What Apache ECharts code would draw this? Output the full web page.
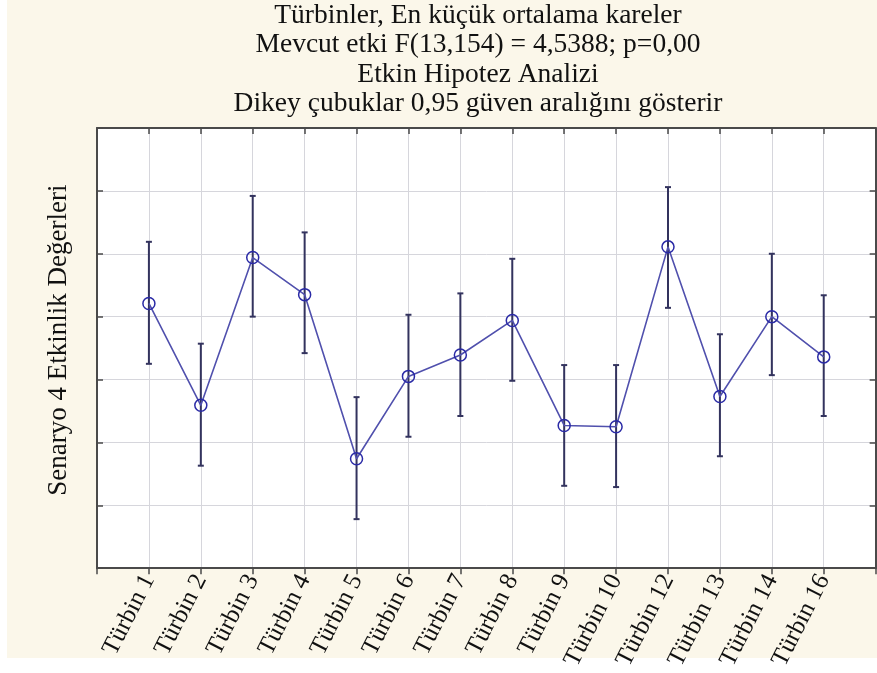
<!DOCTYPE html>
<html lang="tr">
<head>
    <meta charset="UTF-8">
    <title>Türbinler</title>
    <style>
        html, body { margin: 0; padding: 0; background: #fbf7ea; }
    </style>
    <script src="https://cdn.jsdelivr.net/npm/echarts@6/dist/echarts.min.js"></script>
</head>
<body>
    <div id="main" style="width:877px;height:673px"></div>
    <script>
        var turbines = ['Türbin 1', 'Türbin 2', 'Türbin 3', 'Türbin 4', 'Türbin 5', 'Türbin 6', 'Türbin 7',
                        'Türbin 8', 'Türbin 9', 'Türbin 10', 'Türbin 12', 'Türbin 13', 'Türbin 14', 'Türbin 16'];
        var means = [4.21, 2.59, 4.94, 4.35, 1.74, 3.05, 3.39, 3.94, 2.27, 2.25, 5.11, 2.73, 4.00, 3.36];
        var upper = [5.19, 3.57, 5.92, 5.34, 2.72, 4.03, 4.37, 4.92, 3.23, 3.23, 6.06, 3.72, 5.00, 4.34];
        var lower = [3.25, 1.63, 4.00, 3.42, 0.78, 2.09, 2.42, 2.98, 1.31, 1.29, 4.14, 1.78, 3.07, 2.42];

        var serif = '"Liberation Serif", "Times New Roman", serif';
        var axisCol = '#4a4a4a';
        var gridCol = '#d6d6dc';

        var chart = echarts.init(document.getElementById('main'));

        var meanData = [], barData = [];
        for (var i = 0; i < turbines.length; i++) {
            meanData.push([i, means[i]]);
            barData.push([i, lower[i], upper[i]]);
        }

        var option = {
            backgroundColor: '#fbf7ea',
            animation: false,
            title: {
                text: 'Türbinler, En küçük ortalama kareler\nMevcut etki F(13,154) = 4,5388; p=0,00\nEtkin Hipotez Analizi\nDikey çubuklar 0,95 güven aralığını gösterir',
                left: 478,
                textAlign: 'center',
                top: 1,
                padding: 0,
                textStyle: { fontFamily: serif, fontSize: 27.5, fontWeight: 'normal', color: '#111', lineHeight: 29.5 }
            },
            graphic: [
                { type: 'rect', shape: { x: 0, y: 658, width: 877, height: 15 }, style: { fill: '#ffffff' }, silent: true, z: -10 },
                { type: 'rect', shape: { x: 0, y: 0, width: 7, height: 673 }, style: { fill: '#ffffff' }, silent: true, z: -10 }
            ],
            grid: { left: 97, right: 0, top: 128, bottom: 103, show: true, backgroundColor: '#ffffff', borderWidth: 0 },
            xAxis: [{
                type: 'value', min: -1, max: 14, interval: 1,
                axisLine: { onZero: false, lineStyle: { color: axisCol, width: 2 } },
                axisTick: { length: 6, lineStyle: { color: axisCol, width: 1.5 } },
                splitLine: { show: true, lineStyle: { color: gridCol, width: 1 } },
                axisLabel: {
                    rotate: 63, margin: 8,
                    fontFamily: serif, fontSize: 25, color: '#111',
                    formatter: function (v) { return turbines[v] || ''; }
                }
            }, {
                type: 'value', position: 'top', min: -1, max: 14, interval: 1,
                axisLine: { onZero: false, lineStyle: { color: axisCol, width: 2 } },
                axisTick: { inside: true, length: 6, lineStyle: { color: axisCol, width: 1.5 } },
                axisLabel: { show: false },
                splitLine: { show: false }
            }],
            yAxis: [{
                type: 'value', min: 0, max: 7, interval: 1,
                name: 'Senaryo 4 Etkinlik Değerleri',
                nameLocation: 'middle', nameGap: 25,
                nameTextStyle: { fontFamily: serif, fontSize: 27, color: '#111', padding: [0, 0, 0, 16] },
                axisLine: { show: true, onZero: false, lineStyle: { color: axisCol, width: 2 } },
                axisTick: { show: true, inside: true, length: 6, lineStyle: { color: axisCol, width: 1.5 } },
                axisLabel: { show: false },
                splitLine: { show: true, lineStyle: { color: gridCol, width: 1 } }
            }, {
                type: 'value', position: 'right', min: 0, max: 7, interval: 1,
                axisLine: { show: true, onZero: false, lineStyle: { color: axisCol, width: 2 } },
                axisTick: { show: true, inside: true, length: 6, lineStyle: { color: axisCol, width: 1.5 } },
                axisLabel: { show: false },
                splitLine: { show: false }
            }],
            series: [{
                type: 'custom',
                z: 2,
                data: barData,
                renderItem: function (params, api) {
                    var lo = api.coord([api.value(0), api.value(1)]);
                    var hi = api.coord([api.value(0), api.value(2)]);
                    var w = 3;
                    var st = { stroke: '#33335e', lineWidth: 2 };
                    return {
                        type: 'group',
                        children: [
                            { type: 'line', shape: { x1: lo[0], y1: lo[1], x2: hi[0], y2: hi[1] }, style: st },
                            { type: 'line', shape: { x1: lo[0] - w, y1: lo[1], x2: lo[0] + w, y2: lo[1] }, style: st },
                            { type: 'line', shape: { x1: hi[0] - w, y1: hi[1], x2: hi[0] + w, y2: hi[1] }, style: st }
                        ]
                    };
                }
            }, {
                type: 'line',
                z: 3,
                data: meanData,
                symbol: 'circle',
                symbolSize: 12,
                lineStyle: { color: '#5050ad', width: 1.6 },
                itemStyle: { color: 'rgba(0,0,0,0)', borderColor: '#2a2aa6', borderWidth: 1.5 }
            }]
        };

        chart.setOption(option);
    </script>
</body>
</html>
